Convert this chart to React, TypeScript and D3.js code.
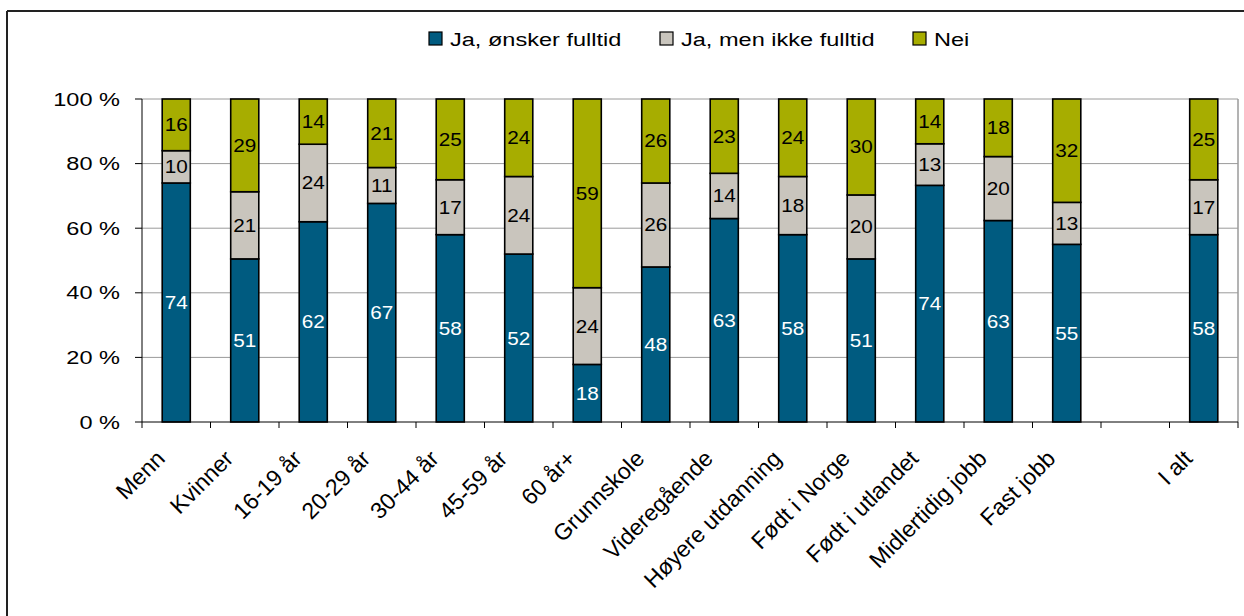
import * as d3 from "d3";

const categories = [
  "Menn",
  "Kvinner",
  "16-19 år",
  "20-29 år",
  "30-44 år",
  "45-59 år",
  "60 år+",
  "Grunnskole",
  "Videregående",
  "Høyere utdanning",
  "Født i Norge",
  "Født i utlandet",
  "Midlertidig jobb",
  "Fast jobb",
  "",
  "I alt",
];

const seriesNames = ["Ja, ønsker fulltid", "Ja, men ikke fulltid", "Nei"];

// null = empty slot
const jaFulltid = [74, 51, 62, 67, 58, 52, 18, 48, 63, 58, 51, 74, 63, 55, null, 58];
const jaIkkeFulltid = [10, 21, 24, 11, 17, 24, 24, 26, 14, 18, 20, 13, 20, 13, null, 17];
const nei = [16, 29, 14, 21, 25, 24, 59, 26, 23, 24, 30, 14, 18, 32, null, 25];

const yTicks = [0, 20, 40, 60, 80, 100];

const W = 1244;
const H = 616;
const left = 142;
const right = 1238;
const top = 99;
const bottom = 422;
const sx = 1.24; // horizontal text in the reference is stretched
const font = "'Liberation Sans', Arial, sans-serif";
const colors = ["#005b80", "#c9c5bd", "#a7ad00"];
const textColors = ["#ffffff", "#000000", "#000000"];

export default function App() {
  const keys = categories.map((c, i) => (c === "" ? `blank${i}` : c));
  const rows = keys.map((k, i) => ({
    key: k,
    s0: jaFulltid[i] ?? 0,
    s1: jaIkkeFulltid[i] ?? 0,
    s2: nei[i] ?? 0,
    empty: jaFulltid[i] == null,
  }));

  const x = d3
    .scaleBand<string>()
    .domain(keys)
    .range([left, right])
    .paddingInner(0.59)
    .paddingOuter(0.295);

  const y = d3.scaleLinear().domain([0, 1]).range([bottom, top]);

  const stack = d3
    .stack<(typeof rows)[number]>()
    .keys(["s0", "s1", "s2"])
    .offset(d3.stackOffsetExpand);
  const layers = stack(rows.filter((r) => !r.empty));

  const step = x.step();
  const tickXs = d3.range(categories.length + 1).map((i) => left + i * step);
  const bw = x.bandwidth();

  const legendX = [429, 660, 913];

  return (
    <svg
      width={W}
      height={H}
      style={{ position: "absolute", left: 0, top: 0, background: "#fff" }}
      fontFamily={font}
    >
      {/* outer frame */}
      <line x1={7} x2={W} y1={11} y2={11} stroke="#222" strokeWidth={2} />
      <line x1={7} x2={7} y1={11} y2={H} stroke="#222" strokeWidth={2} />

      {/* legend */}
      {seriesNames.map((s, i) => (
        <g key={s}>
          <rect x={legendX[i]} y={32} width={13} height={13} fill={colors[i]} stroke="#000" strokeWidth={1.2} />
          <text
            transform={`translate(${legendX[i] + 21},45.5) scale(${sx},1)`}
            fontSize={19}
            fill="#000"
          >
            {s}
          </text>
        </g>
      ))}

      {/* gridlines */}
      {yTicks.slice(1).map((t) => (
        <line key={t} x1={left} x2={right} y1={y(t / 100)} y2={y(t / 100)} stroke="#9a9a9a" strokeWidth={1} />
      ))}
      <line x1={right} x2={right} y1={top} y2={bottom} stroke="#9a9a9a" strokeWidth={1.5} />

      {/* y axis */}
      <line x1={left} x2={left} y1={top} y2={bottom} stroke="#000" strokeWidth={1} />
      {yTicks.map((t) => (
        <g key={t}>
          <line x1={left - 7} x2={left} y1={y(t / 100)} y2={y(t / 100)} stroke="#000" />
          <text
            transform={`translate(120,${y(t / 100) + 6.5}) scale(${sx},1)`}
            textAnchor="end"
            fontSize={19}
          >
            {`${t} %`}
          </text>
        </g>
      ))}

      {/* bars */}
      {layers.map((layer, li) =>
        layer.map((d) => {
          const k = d.data.key;
          const y0 = y(d[0]);
          const y1 = y(d[1]);
          return (
            <g key={`${li}-${k}`}>
              <rect
                x={x(k)}
                y={y1}
                width={bw}
                height={y0 - y1}
                fill={colors[li]}
                stroke="#000"
                strokeWidth={1.6}
              />
              <text
                transform={`translate(${x(k)! + bw / 2},${(y0 + y1) / 2 + 6.5}) scale(1.12,1)`}
                textAnchor="middle"
                fontSize={18.5}
                fill={textColors[li]}
              >
                {d.data[("s" + li) as "s0"]}
              </text>
            </g>
          );
        })
      )}

      {/* x axis */}
      <line x1={left} x2={right} y1={bottom} y2={bottom} stroke="#000" strokeWidth={1} />
      {tickXs.map((tx, i) => (
        <line key={i} x1={tx} x2={tx} y1={bottom} y2={bottom + 6} stroke="#000" />
      ))}
      {categories.map((c, i) =>
        c === "" ? null : (
          <text
            key={c}
            transform={`translate(${x(keys[i])! + bw / 2 - 10},460) rotate(-45)`}
            textAnchor="end"
            fontSize={23}
          >
            {c}
          </text>
        )
      )}
    </svg>
  );
}
